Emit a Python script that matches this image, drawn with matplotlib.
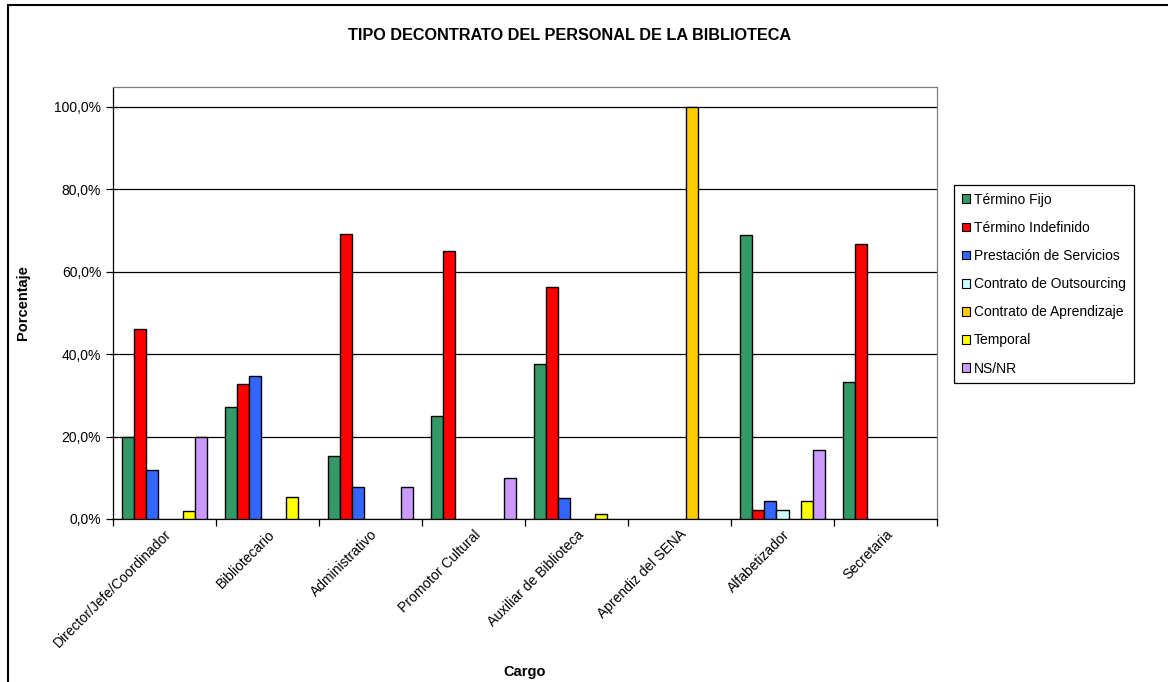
import numpy as np
import matplotlib
matplotlib.use("Agg")
import matplotlib.pyplot as plt
from matplotlib.ticker import FuncFormatter, FixedLocator
from matplotlib.patches import Rectangle

plt.rcParams["font.family"] = ["Liberation Sans", "DejaVu Sans"]

# Datos (porcentajes)
cargos = ["Director/Jefe/Coordinador", "Bibliotecario", "Administrativo",
          "Promotor Cultural", "Auxiliar de Biblioteca", "Aprendiz del SENA",
          "Alfabetizador", "Secretaria"]
series = ["Término Fijo", "Término Indefinido", "Prestación de Servicios",
          "Contrato de Outsourcing", "Contrato de Aprendizaje", "Temporal", "NS/NR"]
termino_fijo = [20.0, 27.3, 15.4, 25.0, 37.5, 0.0, 68.9, 33.3]
termino_indefinido = [46.0, 32.7, 69.2, 65.0, 56.3, 0.0, 2.2, 66.7]
prestacion = [11.8, 34.6, 7.7, 0.0, 5.0, 0.0, 4.4, 0.0]
outsourcing = [0.0, 0.0, 0.0, 0.0, 0.0, 0.0, 2.2, 0.0]
aprendizaje = [0.0, 0.0, 0.0, 0.0, 0.0, 100.0, 0.0, 0.0]
temporal = [2.0, 5.3, 0.0, 0.0, 1.3, 0.0, 4.4, 0.0]
ns_nr = [20.0, 0.0, 7.7, 10.0, 0.0, 0.0, 16.7, 0.0]

valores = [termino_fijo, termino_indefinido, prestacion, outsourcing,
           aprendizaje, temporal, ns_nr]
colores = ["#339966", "#FF0000", "#3366FF", "#CCFFFF", "#FFCC00", "#FFFF00", "#CC99FF"]

fig = plt.figure(figsize=(11.68, 6.82), dpi=100)
ax = fig.add_axes([113 / 1168, 1 - 519 / 682, (937 - 113) / 1168, (519 - 87) / 682])

n = len(series)
ancho = 1.0 / (n + 1.5)
x = np.arange(len(cargos))
handles = []
for i, (nombre, vals, col) in enumerate(zip(series, valores, colores)):
    vals = np.array(vals)
    pos = x - 0.5 + 0.75 * ancho + i * ancho
    m = vals > 0
    ax.bar(pos[m], vals[m], width=ancho, align="edge", color=col,
           edgecolor="black", linewidth=1.0, zorder=3)
    handles.append(Rectangle((0, 0), 1, 1, facecolor=col, edgecolor="black", linewidth=0.8))

ax.set_xlim(-0.5, len(cargos) - 0.5)
ax.set_ylim(0, 104.85)
ax.set_yticks(np.arange(0, 101, 20))
ax.yaxis.set_major_formatter(FuncFormatter(lambda v, p: f"{v:.1f}%".replace(".", ",")))
ax.grid(axis="y", color="black", linewidth=0.9, zorder=1)

ax.set_xticks(x)
ax.set_xticklabels(cargos, rotation=45, ha="right", rotation_mode="anchor", fontsize=10)
ax.xaxis.set_minor_locator(FixedLocator(np.arange(-0.5, len(cargos), 1)))
ax.tick_params(axis="x", which="major", length=0, pad=6)
ax.tick_params(axis="x", which="minor", length=5, width=0.9, direction="out")
ax.tick_params(axis="y", length=5, width=0.9, labelsize=10, direction="out")

for s in ["top", "right"]:
    ax.spines[s].set_color("#808080")
    ax.spines[s].set_linewidth(0.9)
for s in ["left", "bottom"]:
    ax.spines[s].set_color("black")
    ax.spines[s].set_linewidth(0.9)

fig.text(570 / 1168, 1 - 35 / 682, "TIPO DECONTRATO DEL PERSONAL DE LA BIBLIOTECA",
         ha="center", va="center", fontsize=11.7, fontweight="bold")
fig.text(23 / 1168, 1 - 303 / 682, "Porcentaje", rotation=90, ha="center", va="center",
         fontsize=10.5, fontweight="bold")
fig.text(525 / 1168, 1 - 672 / 682, "Cargo", ha="center", va="center",
         fontsize=10.5, fontweight="bold")

leg = fig.legend(handles, series, loc="upper left",
                 bbox_to_anchor=(954 / 1168, 1 - 185 / 682), fontsize=10,
                 handlelength=0.6, handleheight=0.6, handletextpad=0.3,
                 labelspacing=1.02, borderpad=0.55, borderaxespad=0,
                 fancybox=False, framealpha=1)
leg.get_frame().set_edgecolor("black")
leg.get_frame().set_linewidth(0.9)

fig.patches.append(Rectangle((8 / 1168, -0.05), 1.1, 1 - 5 / 682 + 0.05,
                             transform=fig.transFigure, fill=False,
                             edgecolor="black", linewidth=1.5))

fig.savefig("out.png", dpi=100)
